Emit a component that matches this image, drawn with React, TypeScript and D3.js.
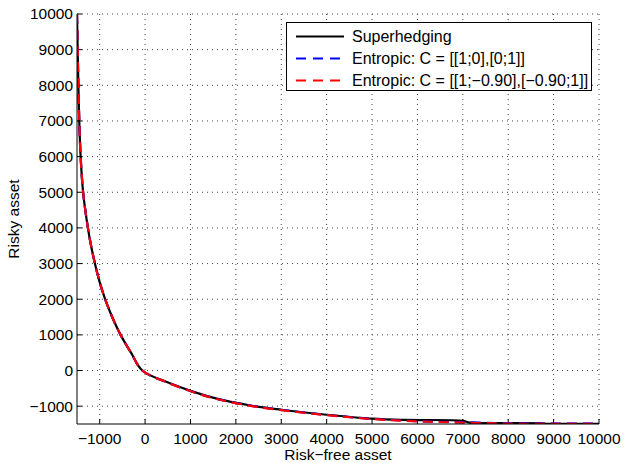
import React from "react";
import * as d3 from "d3";

const xTicks = [-1000, 0, 1000, 2000, 3000, 4000, 5000, 6000, 7000, 8000, 9000, 10000];
const yTicks = [-1000, 0, 1000, 2000, 3000, 4000, 5000, 6000, 7000, 8000, 9000, 10000];

const superX = [-1500, -1485, -1470, -1450, -1420, -1365, -1260, -1190, -1105, -1005, -880, -725, -540, -310, -60, 480, 1070, 1580, 2320, 3000, 4000, 5000, 5700, 7000, 7150, 8000, 8700, 8900, 10000];
const superY = [10000, 9000, 8000, 7000, 6000, 5000, 4000, 3500, 3000, 2500, 2000, 1500, 1000, 500, 0, -325, -600, -790, -980, -1100, -1240, -1350, -1385, -1410, -1460, -1475, -1480, -1495, -1495];

const entX = [-1500, -1485, -1470, -1450, -1420, -1365, -1260, -1190, -1105, -1005, -880, -725, -540, -310, -60, 480, 1070, 1580, 2320, 3000, 4000, 5000, 6000, 7000, 8000, 9000, 10000];
const entY = [10000, 9000, 8000, 7000, 6000, 5000, 4000, 3500, 3000, 2500, 2000, 1500, 1000, 500, 0, -328, -605, -795, -985, -1105, -1245, -1355, -1420, -1450, -1478, -1488, -1490];

const corX = [-1500, -1485, -1470, -1450, -1420, -1365, -1260, -1190, -1105, -1005, -880, -725, -540, -310, -60, 480, 1070, 1580, 2320, 3000, 4000, 5000, 6000, 7000, 8000, 9000, 10000];
const corY = [10000, 9000, 8000, 7000, 6000, 5000, 4000, 3500, 3000, 2500, 2000, 1500, 1000, 500, 0, -330, -610, -800, -990, -1110, -1250, -1360, -1425, -1460, -1488, -1498, -1495];

const legendLabels = ["Superhedging", "Entropic: C = [[1;0],[0;1]]", "Entropic: C = [[1;\u22120.90],[\u22120.90;1]]"];
const legendColors = ["#000000", "#0000ff", "#ff0000"];

const W = 624, H = 463;
const L = 77, R = 599, T = 14, B = 424;
const FONT = "'Liberation Sans', Arial, Helvetica, sans-serif";
const FS = 15.5;
const LFS = 16;

const fmt = (v: number) => (v < 0 ? "\u2212" + Math.abs(v) : String(v));

export default function App() {
  const x = d3.scaleLinear().domain([-1500, 10000]).range([L, R]);
  const y = d3.scaleLinear().domain([-1500, 10000]).range([B, T]);
  const line = d3.line<[number, number]>().x(d => x(d[0])).y(d => y(d[1])).curve(d3.curveCatmullRom.alpha(0.5));
  const pts = (xs: number[], ys: number[]) => xs.map((v, i) => [v, ys[i]] as [number, number]);
  const series = [
    { d: line(pts(superX, superY)), color: legendColors[0], dash: undefined },
    { d: line(pts(entX, entY)), color: legendColors[1], dash: "10,6" },
    { d: line(pts(corX, corY)), color: legendColors[2], dash: "10,6" },
  ];
  const tl = 5;
  return (
    <svg width={W} height={H} style={{ position: "absolute", left: 0, top: 0, background: "#fff" }} fontFamily={FONT}>
      <rect x={0} y={0} width={W} height={H} fill="#fff" />
      <defs>
        <clipPath id="plotclip">
          <rect x={L} y={T - 2} width={R - L + 2} height={B - T + 2} />
        </clipPath>
      </defs>
      {xTicks.map(t => (
        <line key={"gx" + t} x1={x(t)} x2={x(t)} y1={T} y2={B} stroke="#444" strokeWidth={1} strokeDasharray="1,4" />
      ))}
      {yTicks.map(t => (
        <line key={"gy" + t} x1={L} x2={R} y1={y(t)} y2={y(t)} stroke="#444" strokeWidth={1} strokeDasharray="1,4" />
      ))}
      {xTicks.map(t => (
        <line key={"tx" + t} x1={x(t)} x2={x(t)} y1={B} y2={B - tl} stroke="#000" strokeWidth={1} />
      ))}
      {yTicks.map(t => (
        <line key={"ty" + t} x1={L} x2={L + tl} y1={y(t)} y2={y(t)} stroke="#000" strokeWidth={1} />
      ))}
      <g clipPath="url(#plotclip)">
        {series.map((s, i) => (
          <path key={i} d={s.d || ""} fill="none" stroke={s.color} strokeWidth={2.2} strokeDasharray={s.dash} />
        ))}
      </g>
      <line x1={L} x2={L} y1={T} y2={B} stroke="#000" strokeWidth={1} />
      <line x1={L} x2={R} y1={B} y2={B} stroke="#000" strokeWidth={1} />
      {xTicks.map(t => (
        <text key={"lx" + t} x={x(t)} y={444} fontSize={FS} textAnchor="middle">{fmt(t)}</text>
      ))}
      {yTicks.map(t => (
        <text key={"ly" + t} x={L - 4} y={y(t)} dy="0.35em" fontSize={FS} textAnchor="end">{fmt(t)}</text>
      ))}
      <text x={(L + R) / 2} y={460} fontSize={FS} textAnchor="middle">Risk{"\u2212"}free asset</text>
      <text transform={`translate(19,${(T + B) / 2}) rotate(-90)`} fontSize={FS} textAnchor="middle">Risky asset</text>
      <g>
        <rect x={286.5} y={22.5} width={305} height={68} fill="#fff" stroke="#000" strokeWidth={1} />
        {legendLabels.map((lab, i) => {
          const cy = 36.5 + i * 22;
          return (
            <g key={lab}>
              <line x1={296} x2={344} y1={cy} y2={cy} stroke={legendColors[i]} strokeWidth={2.2} strokeDasharray={i === 0 ? undefined : "10,7"} />
              <text x={352} y={cy} dy="0.35em" fontSize={LFS}>{lab}</text>
            </g>
          );
        })}
      </g>
    </svg>
  );
}
